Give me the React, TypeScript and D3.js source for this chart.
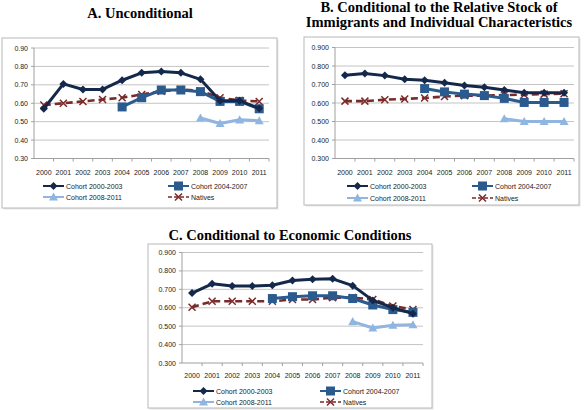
import React from "react";
import * as d3 from "d3";

const years = ["2000","2001","2002","2003","2004","2005","2006","2007","2008","2009","2010","2011"];
const seriesNames = ["Cohort 2000-2003", "Cohort 2004-2007", "Cohort 2008-2011", "Natives"];
const yTicks = [0.3, 0.4, 0.5, 0.6, 0.7, 0.8, 0.9];

// Panel A: Unconditional
const aCohort0003 = [0.57, 0.705, 0.675, 0.675, 0.725, 0.765, 0.773, 0.765, 0.73, 0.613, 0.613, 0.573];
const aCohort0407 = [null, null, null, null, 0.58, 0.63, 0.672, 0.672, 0.663, 0.61, 0.61, 0.57];
const aCohort0811 = [null, null, null, null, null, null, null, null, 0.52, 0.49, 0.51, 0.505];
const aNatives = [0.59, 0.60, 0.61, 0.62, 0.63, 0.648, 0.665, 0.675, 0.667, 0.63, 0.615, 0.61];

// Panel B: Conditional to stock of immigrants & characteristics
const bCohort0003 = [0.75, 0.76, 0.748, 0.728, 0.723, 0.71, 0.695, 0.685, 0.67, 0.655, 0.655, 0.655];
const bCohort0407 = [null, null, null, null, 0.678, 0.66, 0.648, 0.64, 0.625, 0.603, 0.603, 0.603];
const bCohort0811 = [null, null, null, null, null, null, null, null, 0.515, 0.50, 0.50, 0.50];
const bNatives = [0.61, 0.61, 0.618, 0.622, 0.627, 0.635, 0.64, 0.64, 0.643, 0.645, 0.648, 0.65];

// Panel C: Conditional to economic conditions
const cCohort0003 = [0.68, 0.73, 0.718, 0.718, 0.722, 0.748, 0.755, 0.757, 0.72, 0.64, 0.60, 0.568];
const cCohort0407 = [null, null, null, null, 0.65, 0.66, 0.665, 0.665, 0.65, 0.615, 0.59, 0.575];
const cCohort0811 = [null, null, null, null, null, null, null, null, 0.525, 0.49, 0.505, 0.508];
const cNatives = [0.603, 0.635, 0.635, 0.635, 0.635, 0.645, 0.645, 0.655, 0.655, 0.645, 0.61, 0.59];

const COLORS = ["#14284b", "#2a5a8e", "#8fb5e0", "#7b2a2a"];
const LABEL_FONT = "'Liberation Sans', Arial, sans-serif";
const TITLE_FONT = "'Liberation Serif', 'DejaVu Serif', serif";

type Num = number | null;

function Marker({ kind, x, y, color }: { kind: number; x: number; y: number; color: string }) {
  if (kind === 0) {
    const s = 4;
    return <path d={`M${x},${y - s}L${x + s},${y}L${x},${y + s}L${x - s},${y}Z`} fill={color} />;
  }
  if (kind === 1) {
    const s = 4.5;
    return <rect x={x - s} y={y - s} width={2 * s} height={2 * s} fill={color} />;
  }
  if (kind === 2) {
    const s = 4.5;
    return <path d={`M${x},${y - s}L${x + s},${y + s * 0.8}L${x - s},${y + s * 0.8}Z`} fill={color} />;
  }
  const s = 3.5;
  return (
    <path d={`M${x - s},${y - s}L${x + s},${y + s}M${x - s},${y + s}L${x + s},${y - s}`} stroke={color} strokeWidth={1.5} fill="none" />
  );
}

interface PanelProps {
  box: [number, number, number, number];
  plot: [number, number, number, number];
  series: Num[][];
  fmt: string;
  yearY: number;
  legendRows: [number, number];
  legendCols: [number, number];
  title: string[];
  titleX: number;
  titleY: number[];
}

function Panel(p: PanelProps) {
  const [bx0, by0, bx1, by1] = p.box;
  const [px0, py0, px1, py1] = p.plot;
  const x = d3.scaleBand<string>().domain(years).range([px0, px1]);
  const y = d3.scaleLinear().domain([0.3, 0.9]).range([py1, py0]);
  const fmt = d3.format(p.fmt);
  const line = d3
    .line<Num>()
    .defined((d) => d !== null)
    .x((_, i) => (x(years[i]) as number) + x.bandwidth() / 2)
    .y((d) => y(d as number));
  const order = [3, 2, 1, 0];
  const legendPos = [
    [p.legendCols[0], p.legendRows[0]],
    [p.legendCols[1], p.legendRows[0]],
    [p.legendCols[0], p.legendRows[1]],
    [p.legendCols[1], p.legendRows[1]],
  ];
  return (
    <g>
      <rect x={bx0 + 1.5} y={by0 + 1.5} width={bx1 - bx0} height={by1 - by0} fill="#e6e6e6" />
      <rect x={bx0} y={by0} width={bx1 - bx0} height={by1 - by0} fill="#fff" stroke="#b8b8b8" strokeWidth={1} />
      {p.title.map((t, i) => (
        <text key={i} x={p.titleX} y={p.titleY[i]} textAnchor="middle" dominantBaseline="central"
          fontFamily={TITLE_FONT} fontWeight="bold" fontSize={14.5} fill="#000">{t}</text>
      ))}
      {yTicks.map((t) => (
        <g key={t}>
          <line x1={px0} x2={px1} y1={y(t)} y2={y(t)} stroke={t === 0.3 ? "#a0a0a0" : "#c4c4c4"} strokeWidth={1} />
          <line x1={px0 - 3} x2={px0} y1={y(t)} y2={y(t)} stroke="#a0a0a0" />
          <text x={px0 - 6} y={y(t)} textAnchor="end" dominantBaseline="central" fontFamily={LABEL_FONT} fontSize={7} fill="#222">{fmt(t)}</text>
        </g>
      ))}
      <line x1={px0} x2={px0} y1={py0} y2={py1} stroke="#a0a0a0" />
      {years.map((yr, i) => (
        <g key={yr}>
          <line x1={(x(yr) as number) + x.bandwidth()} x2={(x(yr) as number) + x.bandwidth()} y1={py1} y2={py1 + 3} stroke="#a0a0a0" />
          <text x={(x(yr) as number) + x.bandwidth() / 2} y={p.yearY} textAnchor="middle" dominantBaseline="central"
            fontFamily={LABEL_FONT} fontSize={7} fill="#222">{yr}</text>
        </g>
      ))}
      {order.map((k) => {
        const data = p.series[k];
        return (
          <g key={k}>
            <path d={line(data) || ""} fill="none" stroke={COLORS[k]} strokeWidth={k === 3 ? 2.6 : 3}
              strokeDasharray={k === 3 ? "7,4" : undefined} strokeLinejoin="round" />
            {data.map((v, i) =>
              v === null ? null : (
                <Marker key={i} kind={k} x={(x(years[i]) as number) + x.bandwidth() / 2} y={y(v)} color={COLORS[k]} />
              )
            )}
          </g>
        );
      })}
      {seriesNames.map((name, k) => {
        const [lx, ly] = legendPos[k];
        return (
          <g key={name}>
            <line x1={lx} x2={lx + 21} y1={ly} y2={ly} stroke={COLORS[k]} strokeWidth={k === 3 ? 1.5 : 2}
              strokeDasharray={k === 3 ? "4,2" : undefined} />
            <Marker kind={k} x={lx + 10.5} y={ly} color={COLORS[k]} />
            <text x={lx + 23} y={ly} dominantBaseline="central" fontFamily={LABEL_FONT} fontSize={7} fill="#222">{name}</text>
          </g>
        );
      })}
    </g>
  );
}

export default function App() {
  return (
    <svg width={584} height={410} style={{ position: "absolute", left: 0, top: 0, background: "#fff" }}>
      <Panel
        box={[2, 38, 277, 208]}
        plot={[34, 48, 269, 158.5]}
        series={[aCohort0003, aCohort0407, aCohort0811, aNatives]}
        fmt=".2f"
        yearY={172}
        legendRows={[186, 197]}
        legendCols={[43, 168]}
        title={["A. Unconditional"]}
        titleX={140}
        titleY={[13]}
      />
      <Panel
        box={[304, 37, 579, 205]}
        plot={[335, 47.5, 574, 158.5]}
        series={[bCohort0003, bCohort0407, bCohort0811, bNatives]}
        fmt=".3f"
        yearY={172}
        legendRows={[186, 198]}
        legendCols={[347, 472]}
        title={["B. Conditional to the Relative Stock of", "Immigrants and Individual Characteristics"]}
        titleX={439}
        titleY={[7, 22]}
      />
      <Panel
        box={[148, 244, 432, 408]}
        plot={[182, 252.5, 423, 363]}
        series={[cCohort0003, cCohort0407, cCohort0811, cNatives]}
        fmt=".3f"
        yearY={375}
        legendRows={[391, 402]}
        legendCols={[193, 320]}
        title={["C. Conditional to Economic Conditions"]}
        titleX={290}
        titleY={[235]}
      />
    </svg>
  );
}
